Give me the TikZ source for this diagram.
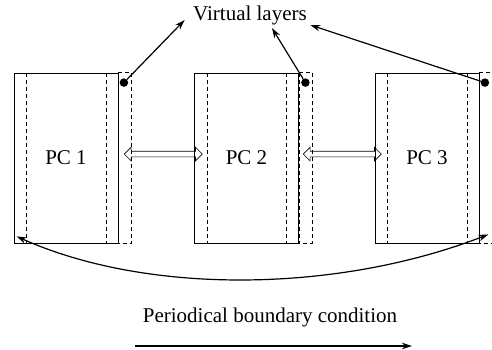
\documentclass[tikz,border=0pt]{standalone}
\usepackage{fontspec}
\setmainfont{Liberation Serif}
\usetikzlibrary{arrows.meta,calc,shapes.arrows}

\begin{document}
\begin{tikzpicture}[x=1pt,y=-1pt,
    every node/.style={font=\fontsize{21}{25}\selectfont},
    pcbox/.style={draw, line width=0.8pt, minimum width=104pt, minimum height=170pt, inner sep=0pt},
    vlayer/.style={line width=0.7pt, dash pattern=on 4pt off 3pt},
    dot/.style={circle, fill, inner sep=0pt, minimum size=8.5pt},
    pointer/.style={line width=1.2pt, -{Stealth[length=10pt,width=6.5pt]}},
    exchange/.style={double arrow, draw, line width=0.7pt, inner xsep=0pt, inner ysep=2.5pt,
        double arrow head extend=4pt, double arrow head indent=0pt, font=\tiny}]
    \useasboundingbox (0,0) rectangle (492,349);

    \node[pcbox] (pc1) at (66,158) {PC 1};
    \node[pcbox] (pc2) at (246.5,158) {PC 2};
    \node[pcbox] (pc3) at (427,158) {PC 3};

    % inner layers and virtual layers
    \draw[vlayer] ([xshift=13pt]pc1.north west) -- ([xshift=13pt]pc1.south west);
    \draw[vlayer] ([xshift=-12.5pt]pc1.north east) -- ([xshift=-12.5pt]pc1.south east);
    \draw[vlayer] (pc1.north east) rectangle ([xshift=13pt]pc1.south east);
    \draw[vlayer] ([xshift=13pt]pc2.north west) -- ([xshift=13pt]pc2.south west);
    \draw[vlayer] ([xshift=-12.5pt]pc2.north east) -- ([xshift=-12.5pt]pc2.south east);
    \draw[vlayer] (pc2.north east) rectangle ([xshift=13pt]pc2.south east);
    \draw[vlayer] ([xshift=13pt]pc3.north west) -- ([xshift=13pt]pc3.south west);
    \draw[vlayer] ([xshift=-12.5pt]pc3.north east) -- ([xshift=-12.5pt]pc3.south east);
    \draw[vlayer] (pc3.north east) rectangle ([xshift=13pt]pc3.south east);

    \node[dot] (d1) at ($(pc1.north east)+(5.5,10)$) {};
    \node[dot] (d2) at ($(pc2.north east)+(6.5,10)$) {};
    \node[dot] (d3) at ($(pc3.north east)+(5.5,10)$) {};

    \node (vl) at (250,15) {Virtual layers};
    \draw[pointer] (d1) -- ([shift={(-5,5)}]vl.west);
    \draw[pointer] (d2) -- ([xshift=22pt]vl.south);
    \draw[pointer] (d3) -- ([shift={(0,10)}]vl.east);

    % exchange between neighbouring PCs
    \node[exchange, minimum height=78pt] (x12) at ($([shift={(6,-4)}]pc1.east)!0.5!([shift={(8,-4)}]pc2.west)$) {};
    \node[exchange, minimum height=78pt] (x23) at ($([shift={(5,-4)}]pc2.east)!0.5!([shift={(6,-4)}]pc3.west)$) {};

    \coordinate (cl) at ($(pc1.south west)+(3,-7)$);
    \coordinate (cr) at ($(pc3.south east)+(9,-9)$);
    \draw[pointer, {Stealth[length=10pt,width=6.5pt]}-{Stealth[length=10pt,width=6.5pt]}]
        (cr) .. controls (340,292) and (150,296) .. (cl);

    \node (pbc) at (270,317) {Periodical boundary condition};
    \coordinate (ps) at (135,346);
    \coordinate (pe) at (412,346);
    \draw[pointer] (ps) -- (pe);
\end{tikzpicture}
\end{document}
